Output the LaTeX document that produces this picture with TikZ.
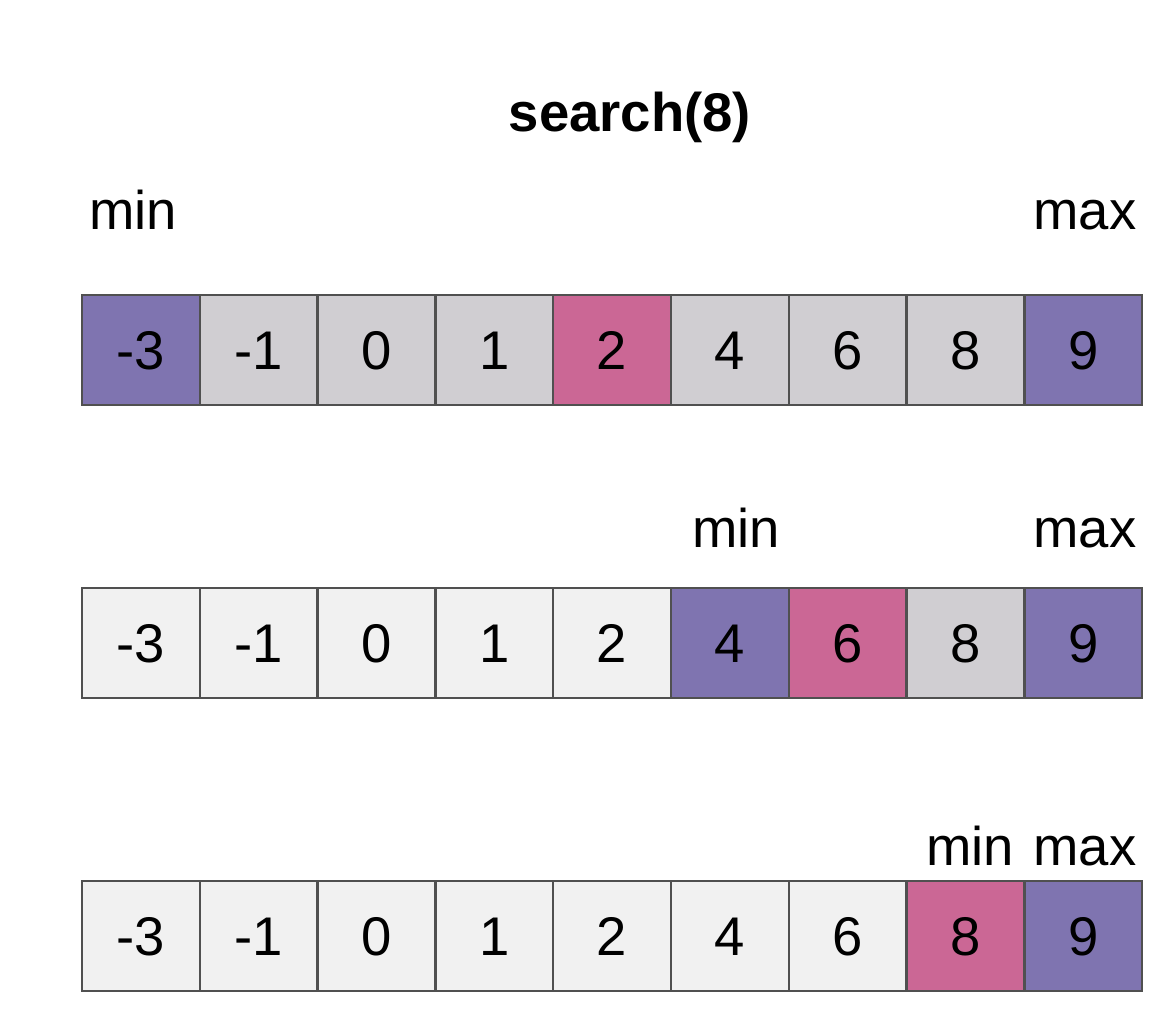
\documentclass[tikz,border=0pt]{standalone}
\usepackage{fontspec}
\setmainfont{Liberation Sans}
\usetikzlibrary{positioning}
\definecolor{minmax}{HTML}{7F74B0}
\definecolor{midcell}{HTML}{CB6795}
\definecolor{livecell}{HTML}{D0CED2}
\definecolor{deadcell}{HTML}{F1F1F1}
\definecolor{cellline}{HTML}{505050}
\begin{document}
\begin{tikzpicture}[x=0.02cm,y=-0.02cm,
    cell/.style={draw=cellline,line width=1.4pt,minimum width=2.356cm,
        minimum height=2.2cm,inner sep=0pt,outer sep=0pt,
        font=\fontsize{31}{36}\selectfont,text height=22pt,text depth=0pt},
    lbl/.style={font=\fontsize{31}{36}\selectfont,anchor=base,inner sep=0pt}]
    \useasboundingbox (0,0) rectangle (1170,1026);

    \node[font=\fontsize{31}{36}\selectfont\bfseries,anchor=base,inner sep=0pt]
        (title) at (630,132) {search(8)};

    % Erster Schritt: ganze Liste.
    \foreach \i/\v/\c in {1/-3/minmax,2/-1/livecell,3/0/livecell,4/1/livecell,
        5/2/midcell,6/4/livecell,7/6/livecell,8/8/livecell,9/9/minmax}
        \node[cell,fill=\c] (a\i) at ({82+117.8*(\i-0.5)},350) {\v};
    \node[lbl] (amin) at (133,230) {min};
    \node[lbl] (amax) at (1085,230) {max};

    % Zweiter Schritt: rechte Hälfte.
    \foreach \i/\v/\c in {1/-3/deadcell,2/-1/deadcell,3/0/deadcell,4/1/deadcell,
        5/2/deadcell,6/4/minmax,7/6/midcell,8/8/livecell,9/9/minmax}
        \node[cell,fill=\c] (b\i) at ({82+117.8*(\i-0.5)},643) {\v};
    \node[lbl] (bmin) at (736,548) {min};
    \node[lbl] (bmax) at (1085,548) {max};

    % Dritter Schritt: Treffer.
    \foreach \i/\v/\c in {1/-3/deadcell,2/-1/deadcell,3/0/deadcell,4/1/deadcell,
        5/2/deadcell,6/4/deadcell,7/6/deadcell,8/8/midcell,9/9/minmax}
        \node[cell,fill=\c] (c\i) at ({82+117.8*(\i-0.5)},936) {\v};
    \node[lbl] (cmin) at (970,865) {min};
    \node[lbl] (cmax) at (1085,865) {max};
\end{tikzpicture}
\end{document}
